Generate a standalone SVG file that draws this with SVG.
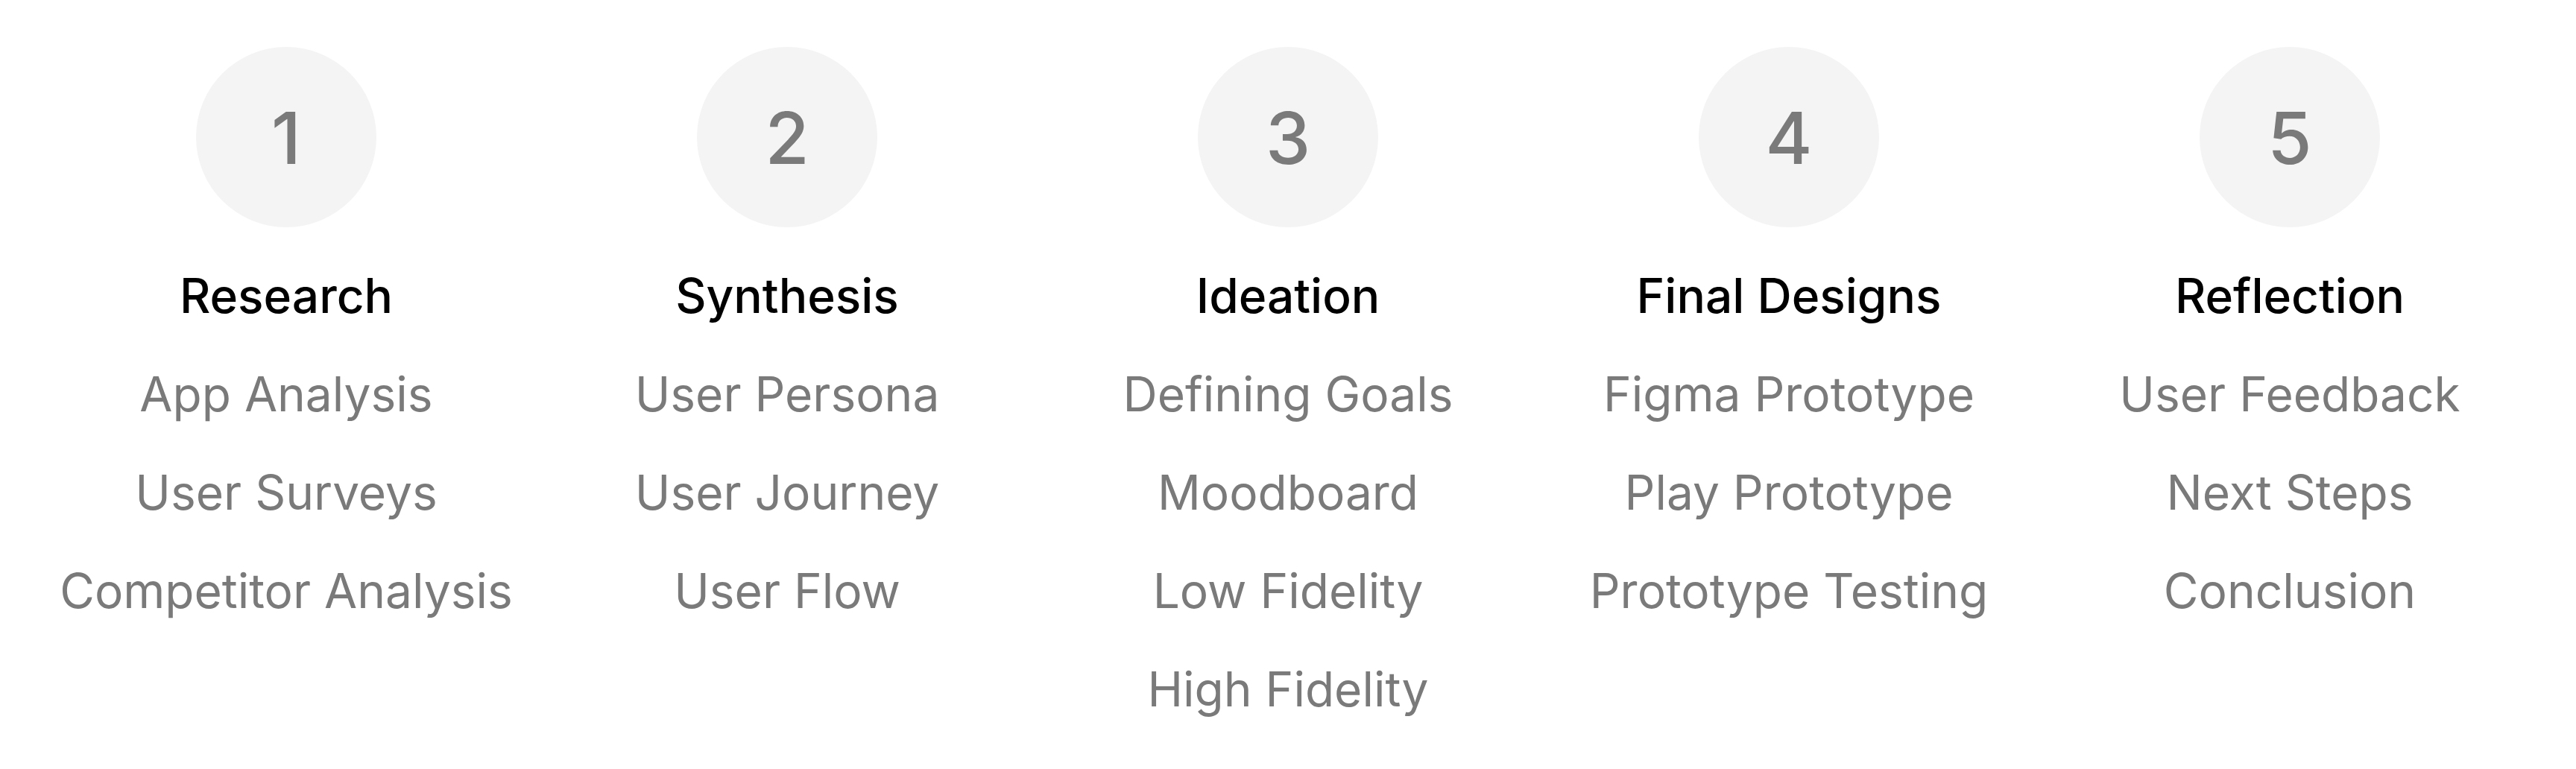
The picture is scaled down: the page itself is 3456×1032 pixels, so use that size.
<svg xmlns="http://www.w3.org/2000/svg" width="3456" height="1032" viewBox="0 0 3456 1032">
<style>
.c{fill:#f4f4f4}
.n{font-family:Inter,"Liberation Sans",sans-serif;font-size:96px;font-weight:500;fill:#7a7a7a;text-anchor:middle}
.t{font-family:Inter,"Liberation Sans",sans-serif;font-size:64px;font-weight:500;fill:#000;text-anchor:middle}
.s{font-family:Inter,"Liberation Sans",sans-serif;font-size:64px;fill:#7a7a7a;text-anchor:middle}
</style>
<rect width="3456" height="1032" fill="#fff"/>
<g id="step1">
<circle class="c" cx="384" cy="184" r="121"/>
<text class="n" x="384" y="220">1</text>
<text class="t" x="384" y="420">Research</text>
<text class="s" x="384" y="552">App Analysis</text>
<text class="s" x="384" y="684">User Surveys</text>
<text class="s" x="384" y="816">Competitor Analysis</text>
</g>
<g id="step2">
<circle class="c" cx="1056" cy="184" r="121"/>
<text class="n" x="1056" y="220">2</text>
<text class="t" x="1056" y="420">Synthesis</text>
<text class="s" x="1056" y="552">User Persona</text>
<text class="s" x="1056" y="684">User Journey</text>
<text class="s" x="1056" y="816">User Flow</text>
</g>
<g id="step3">
<circle class="c" cx="1728" cy="184" r="121"/>
<text class="n" x="1728" y="220">3</text>
<text class="t" x="1728" y="420">Ideation</text>
<text class="s" x="1728" y="552">Defining Goals</text>
<text class="s" x="1728" y="684">Moodboard</text>
<text class="s" x="1728" y="816">Low Fidelity</text>
<text class="s" x="1728" y="948">High Fidelity</text>
</g>
<g id="step4">
<circle class="c" cx="2400" cy="184" r="121"/>
<text class="n" x="2400" y="220">4</text>
<text class="t" x="2400" y="420">Final Designs</text>
<text class="s" x="2400" y="552">Figma Prototype</text>
<text class="s" x="2400" y="684">Play Prototype</text>
<text class="s" x="2400" y="816">Prototype Testing</text>
</g>
<g id="step5">
<circle class="c" cx="3072" cy="184" r="121"/>
<text class="n" x="3072" y="220">5</text>
<text class="t" x="3072" y="420">Reflection</text>
<text class="s" x="3072" y="552">User Feedback</text>
<text class="s" x="3072" y="684">Next Steps</text>
<text class="s" x="3072" y="816">Conclusion</text>
</g>
<g id="connectors"/>
</svg>
